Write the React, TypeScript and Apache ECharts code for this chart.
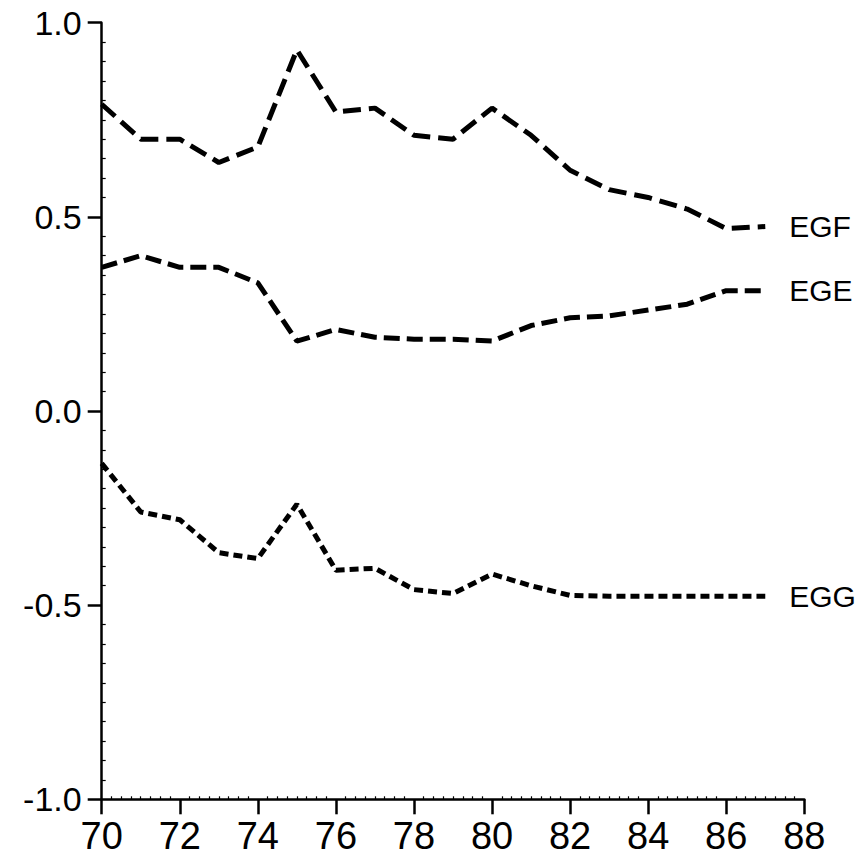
import React, { useEffect, useRef } from "react";
import * as echarts from "echarts";

const years = [70, 71, 72, 73, 74, 75, 76, 77, 78, 79, 80, 81, 82, 83, 84, 85, 86, 87];
const egf = [0.79, 0.70, 0.70, 0.64, 0.68, 0.93, 0.77, 0.78, 0.71, 0.70, 0.78, 0.71, 0.62, 0.57, 0.55, 0.52, 0.47, 0.475];
const ege = [0.37, 0.40, 0.37, 0.37, 0.33, 0.18, 0.21, 0.19, 0.185, 0.185, 0.18, 0.22, 0.24, 0.245, 0.26, 0.275, 0.31, 0.31];
const egg = [-0.135, -0.26, -0.28, -0.365, -0.38, -0.24, -0.41, -0.405, -0.46, -0.47, -0.42, -0.45, -0.475, -0.477, -0.477, -0.477, -0.477, -0.477];
const seriesNames = ["EGF", "EGE", "EGG"];
const xTicks = { min: 70, max: 88, interval: 2 };
const yTicks = { min: -1, max: 1, interval: 0.5 };

const FONT = "'Liberation Sans', Arial, Helvetica, sans-serif";
const NARROW = "'Liberation Sans Narrow', 'Arial Narrow', 'Liberation Sans', Arial, sans-serif";

export default function App() {
  const ref = useRef<HTMLDivElement>(null);
  useEffect(() => {
    if (!ref.current) return;
    const chart = echarts.init(ref.current, null, { renderer: "svg" });
    const pairs = (vals: number[]) => years.map((y, i) => [y, vals[i]]);
    const dashes = [[18, 8], [16, 7], [9, 5]];
    const allVals = [egf, ege, egg];
    const axisLine = { show: true, onZero: false, lineStyle: { color: "#000", width: 2.5 } };
    chart.setOption({
      animation: false,
      backgroundColor: "#fff",
      grid: { left: 101.7, right: 61.7, top: 22.7, bottom: 61.7 },
      xAxis: [
        {
          type: "value",
          position: "bottom",
          min: xTicks.min,
          max: xTicks.max,
          interval: xTicks.interval,
          axisLine,
          axisTick: { show: true, length: 15, lineStyle: { color: "#000", width: 2.5 } },
          axisLabel: { color: "#000", fontSize: 38, fontFamily: NARROW, margin: 18 },
          splitLine: { show: false },
        },
        {
          type: "value",
          position: "bottom",
          min: xTicks.min,
          max: xTicks.max,
          interval: xTicks.interval,
          axisLine: { show: false, onZero: false },
          axisTick: { show: false, inside: true },
          minorTick: { show: true, splitNumber: 8, length: 3, lineStyle: { color: "#000", width: 1.2 } },
          axisLabel: { show: false },
          splitLine: { show: false },
        },
      ],
      yAxis: [
        {
          type: "value",
          position: "left",
          min: yTicks.min,
          max: yTicks.max,
          interval: yTicks.interval,
          axisLine,
          axisTick: { show: true, length: 14, lineStyle: { color: "#000", width: 2.5 } },
          axisLabel: {
            color: "#000",
            fontSize: 34,
            fontFamily: FONT,
            margin: 20,
            formatter: (v: number) => v.toFixed(1),
          },
          splitLine: { show: false },
        },
        {
          type: "value",
          position: "left",
          min: yTicks.min,
          max: yTicks.max,
          interval: yTicks.interval,
          axisLine: { show: false, onZero: false },
          axisTick: { show: false, inside: true },
          minorTick: { show: true, splitNumber: 10, length: 4, lineStyle: { color: "#000", width: 1.2 } },
          axisLabel: { show: false },
          splitLine: { show: false },
        },
      ],
      series: seriesNames.map((name, i) => ({
        name,
        type: "line",
        xAxisIndex: 0,
        yAxisIndex: 0,
        data: pairs(allVals[i]),
        showSymbol: false,
        symbol: "none",
        smooth: false,
        lineStyle: { color: "#000", width: 5, type: dashes[i] },
        endLabel: {
          show: true,
          formatter: "{a}",
          distance: 24,
          color: "#000",
          fontSize: 30,
          fontFamily: FONT,
        },
      })),
    });
    return () => chart.dispose();
  }, []);
  return (
    <div
      ref={ref}
      style={{ position: "fixed", left: 0, top: 0, width: 866, height: 861, background: "#fff" }}
    />
  );
}
